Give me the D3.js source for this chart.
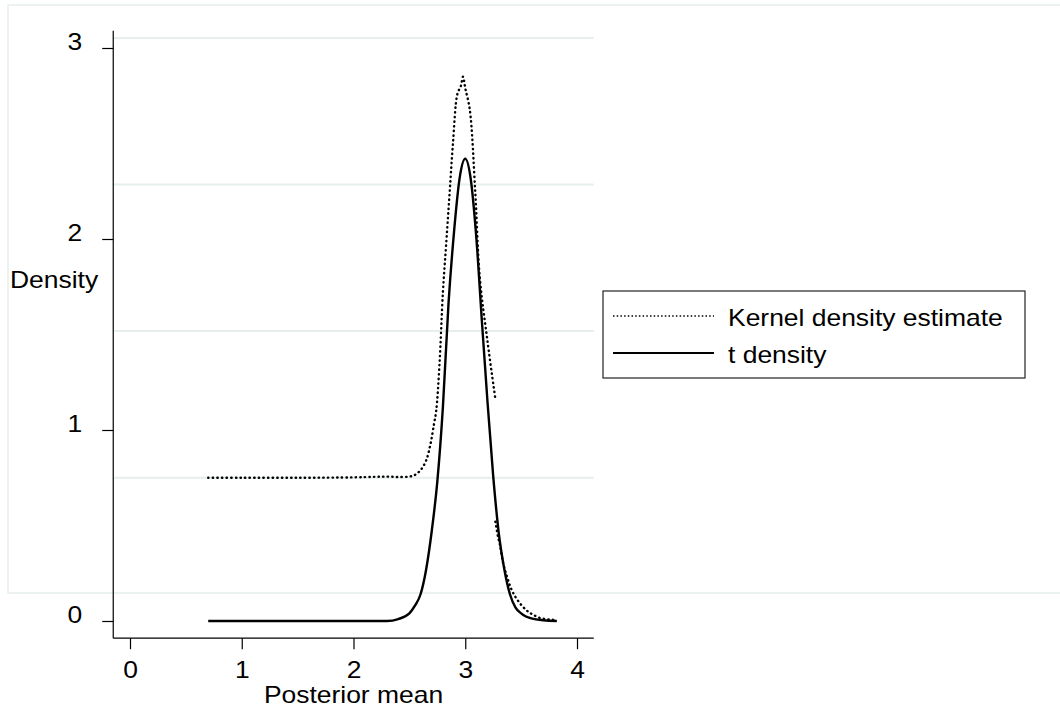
<html>
<head>
<meta charset="utf-8">
<title>Kernel density vs t density</title>
<script src="https://d3js.org/d3.v7.min.js"></script>
<style>
    body { margin: 0; background: #fff; font-family: "Liberation Sans", Arial, sans-serif; }
    #chart svg { display: block; }
    text { font-family: "Liberation Sans", Arial, sans-serif; font-size: 23px; fill: #000; }
    .axis line { stroke: #000; stroke-width: 1.2; }
</style>
</head>
<body>
<div id="chart"></div>
<script>
// ***** DATA *****
// kernel density estimate, first piece (dotted)
var kdeX1 = [0.70, 1.00, 1.50, 2.00, 2.20, 2.30, 2.40, 2.50, 2.55, 2.60, 2.65, 2.69, 2.72, 2.74, 2.77, 2.80, 2.83, 2.86, 2.89, 2.93, 2.96, 2.98, 3.00, 3.04, 3.09, 3.13, 3.20, 3.27];
var kdeY1 = [0.750, 0.750, 0.750, 0.752, 0.755, 0.756, 0.754, 0.756, 0.765, 0.79, 0.84, 0.93, 1.03, 1.10, 1.35, 1.72, 1.98, 2.24, 2.50, 2.76, 2.80, 2.85, 2.79, 2.68, 2.24, 1.80, 1.46, 1.16];
// kernel density estimate, second piece after the break
var kdeX2 = [3.27, 3.29, 3.31, 3.34, 3.375, 3.41, 3.45, 3.50, 3.55, 3.60, 3.67, 3.75, 3.82];
var kdeY2 = [0.52, 0.45, 0.40, 0.30, 0.23, 0.17, 0.125, 0.085, 0.055, 0.035, 0.016, 0.008, 0.005];
// t density (solid)
var tX = [0.70, 1.00, 1.50, 2.00, 2.30, 2.40, 2.50, 2.55, 2.60, 2.65, 2.70, 2.75, 2.80, 2.85, 2.90, 2.95, 3.00, 3.05, 3.10, 3.15, 3.20, 3.25, 3.30, 3.35, 3.40, 3.45, 3.50, 3.60, 3.70, 3.82];
var tY = [0, 0, 0, 0, 0, 0.01, 0.04, 0.08, 0.14, 0.27, 0.47, 0.73, 1.12, 1.66, 2.04, 2.32, 2.42, 2.31, 2.00, 1.56, 1.14, 0.76, 0.46, 0.27, 0.14, 0.07, 0.04, 0.012, 0.004, 0];

var xTicks = [0, 1, 2, 3, 4];
var yTicks = [0, 1, 2, 3];
var gridVals = [0.75, 1.518, 2.285, 3.052];
var xExtent = [-0.15, 4.15];
var yExtent = [-0.09, 3.09];
var legendLabels = ["Kernel density estimate", "t density"];

// ***** CHART *****
var width = 1060, height = 710;
var stretch = 'scale(1.15,1)';   // the original text is a bit wide

var svg = d3.select('#chart')
  .append('svg')
  .attr('width', width)
  .attr('height', height);

// faint outer frame
svg.append('rect')
  .attr('x', 8).attr('y', 5)
  .attr('width', 1060).attr('height', 588)
  .attr('fill', 'none')
  .attr('stroke', '#e6eeee')
  .attr('stroke-width', 1.5);

var x = d3.scaleLinear().domain([0, 4]).range([130, 577]);
var y = d3.scaleLinear().domain([0, 3]).range([621, 48]);

// light horizontal grid lines
svg.append('g').selectAll('line')
  .data(gridVals)
  .enter()
  .append('line')
  .attr('x1', x(xExtent[0])).attr('x2', x(xExtent[1]))
  .attr('y1', function(d) { return y(d); })
  .attr('y2', function(d) { return y(d); })
  .attr('stroke', '#e6eeee')
  .attr('stroke-width', 2);

// y axis
var yAxis = svg.append('g')
  .attr('class', 'axis')
  .attr('transform', 'translate(' + x(xExtent[0]) + ',0)')
  .call(d3.axisLeft(y).tickValues(yTicks).tickSize(11).tickFormat(d3.format('d')));
yAxis.select('.domain').remove();
yAxis.selectAll('.tick text')
  .attr('x', null).attr('dy', null)
  .attr('transform', 'translate(-31,1) ' + stretch);
yAxis.attr('font-size', null).attr('font-family', null);
svg.append('line')
  .attr('x1', x(xExtent[0])).attr('x2', x(xExtent[0]))
  .attr('y1', y(yExtent[0])).attr('y2', y(yExtent[1]))
  .attr('stroke', '#000').attr('stroke-width', 1.2);

// x axis
var xAxis = svg.append('g')
  .attr('class', 'axis')
  .attr('transform', 'translate(0,' + y(yExtent[0]) + ')')
  .call(d3.axisBottom(x).tickValues(xTicks).tickSize(11).tickFormat(d3.format('d')));
xAxis.select('.domain').remove();
xAxis.selectAll('.tick text')
  .attr('y', null).attr('dy', null)
  .attr('transform', 'translate(0,40) ' + stretch);
xAxis.attr('font-size', null).attr('font-family', null);
svg.append('line')
  .attr('x1', x(xExtent[0])).attr('x2', x(xExtent[1]))
  .attr('y1', y(yExtent[0])).attr('y2', y(yExtent[0]))
  .attr('stroke', '#000').attr('stroke-width', 1.2);

// axis titles
svg.append('text')
  .attr('transform', 'translate(' + x(2.0) + ',703) ' + stretch)
  .attr('text-anchor', 'middle')
  .text('Posterior mean');
svg.append('text')
  .attr('transform', 'translate(10,288) ' + stretch)
  .text('Density');

// curves
var line = d3.line()
  .x(function(d) { return x(d[0]); })
  .y(function(d) { return y(d[1]); })
  .curve(d3.curveMonotoneX);

var kdeLine = d3.line()
  .x(function(d) { return x(d[0]); })
  .y(function(d) { return y(d[1]); })
  .curve(d3.curveCatmullRom);

[d3.zip(kdeX1, kdeY1), d3.zip(kdeX2, kdeY2)].forEach(function(pts) {
  svg.append('path')
    .attr('d', kdeLine(pts))
    .attr('fill', 'none')
    .attr('stroke', '#000')
    .attr('stroke-width', 2.4)
    .attr('stroke-linecap', 'round')
    .attr('stroke-dasharray', '0.4,4.2');
});

svg.append('path')
  .attr('d', line(d3.zip(tX, tY)))
  .attr('fill', 'none')
  .attr('stroke', '#000')
  .attr('stroke-width', 2.4)
  .attr('stroke-linejoin', 'round');

// legend
var legend = svg.append('g');
legend.append('rect')
  .attr('x', 603).attr('y', 291)
  .attr('width', 422).attr('height', 87)
  .attr('fill', '#fff')
  .attr('stroke', '#222')
  .attr('stroke-width', 1.2);

var rows = legend.selectAll('g.row')
  .data(legendLabels)
  .enter()
  .append('g')
  .attr('class', 'row')
  .attr('transform', function(d, i) { return 'translate(0,' + (316 + i * 37) + ')'; });

rows.append('line')
  .attr('x1', 613).attr('x2', 714)
  .attr('y1', 0).attr('y2', 0)
  .attr('stroke', '#000')
  .attr('stroke-width', function(d, i) { return i === 0 ? 1.5 : 2.2; })
  .attr('stroke-dasharray', function(d, i) { return i === 0 ? '1.5,2.2' : null; });

rows.append('text')
  .attr('transform', 'translate(728,10) ' + stretch)
  .text(function(d) { return d; });
</script>
</body>
</html>
